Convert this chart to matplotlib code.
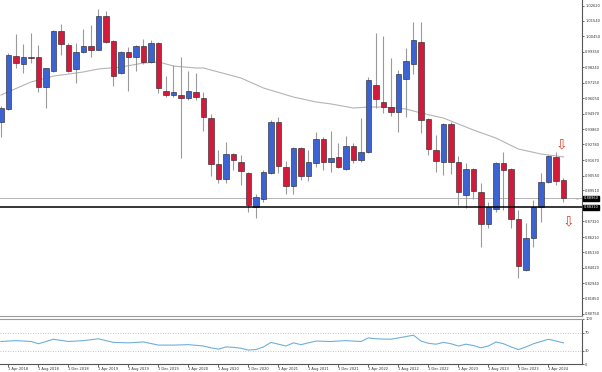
import matplotlib
matplotlib.use("Agg")
import matplotlib.pyplot as plt
import matplotlib.transforms as mtransforms

# monthly candles, Mar 2018 .. Jun 2024
opens = [0.9437, 0.9529, 0.9905, 0.9848, 0.9898, 0.9898, 0.9685, 0.9799, 1.0082, 0.9983,
         0.9813, 0.9934, 0.9976, 0.9948, 1.0189, 1.0012, 0.9785, 0.9934, 0.9898, 0.9976,
         0.9863, 0.9997, 0.9657, 0.9628, 0.9628, 0.9607, 0.9650, 0.9607, 0.9465, 0.9139,
         0.9033, 0.9210, 0.9153, 0.9075, 0.8834, 0.8891, 0.9075, 0.9437, 0.9118, 0.8983,
         0.9253, 0.9054, 0.9146, 0.9316, 0.9153, 0.9189, 0.9104, 0.9267, 0.9167, 0.9224,
         0.9699, 0.9579, 0.9543, 0.9508, 0.9742, 0.9848, 1.0004, 0.9458, 0.9238, 0.9153,
         0.9423, 0.9153, 0.8919, 0.9104, 0.8940, 0.8713, 0.8820, 0.9146, 0.9104, 0.8749,
         0.8387, 0.8614, 0.8834, 0.9011, 0.9189, 0.9026]
highs = [0.9550, 0.9926, 1.0061, 0.9990, 1.0068, 0.9983, 0.9820, 1.0090, 1.0132, 0.9997,
         0.9997, 1.0097, 1.0125, 1.0239, 1.0224, 1.0019, 0.9941, 0.9969, 0.9985, 1.0026,
         1.0019, 1.0004, 0.9763, 0.9841, 0.9898, 0.9799, 0.9785, 0.9650, 0.9494, 0.9238,
         0.9295, 0.9217, 0.9203, 0.9082, 0.8926, 0.9096, 0.9451, 0.9472, 0.9160, 0.9260,
         0.9260, 0.9238, 0.9366, 0.9330, 0.9373, 0.9288, 0.9338, 0.9288, 0.9465, 0.9756,
         1.0068, 1.0047, 0.9891, 0.9806, 0.9962, 1.0146, 1.0146, 0.9465, 0.9345, 0.9430,
         0.9437, 0.9196, 0.9146, 0.9111, 0.9004, 0.8869, 0.9153, 0.9224, 0.9111, 0.8813,
         0.8720, 0.8884, 0.9075, 0.9203, 0.9224, 0.9040]
lows = [0.9330, 0.9522, 0.9820, 0.9785, 0.9855, 0.9650, 0.9536, 0.9795, 0.9912, 0.9792,
        0.9714, 0.9926, 0.9898, 0.9945, 1.0000, 0.9692, 0.9777, 0.9657, 0.9799, 0.9848,
        0.9855, 0.9643, 0.9614, 0.9614, 0.9182, 0.9593, 0.9593, 0.9373, 0.9054, 0.9004,
        0.9004, 0.9096, 0.8990, 0.8798, 0.8756, 0.8869, 0.9068, 0.9075, 0.8926, 0.8926,
        0.9026, 0.9018, 0.9118, 0.9096, 0.9082, 0.9111, 0.9096, 0.9146, 0.9153, 0.9217,
        0.9536, 0.9501, 0.9480, 0.9366, 0.9472, 0.9777, 0.9359, 0.9203, 0.9082, 0.9061,
        0.9068, 0.8848, 0.8827, 0.8891, 0.8550, 0.8685, 0.8798, 0.8813, 0.8685, 0.8330,
        0.8380, 0.8550, 0.8728, 0.9004, 0.8990, 0.8869]
closes = [0.9536, 0.9912, 0.9855, 0.9898, 0.9894, 0.9685, 0.9820, 1.0082, 0.9990, 0.9799,
          0.9934, 0.9976, 0.9948, 1.0189, 1.0004, 0.9763, 0.9934, 0.9898, 0.9976, 0.9863,
          0.9997, 0.9678, 0.9628, 0.9650, 0.9607, 0.9657, 0.9614, 0.9472, 0.9139, 0.9033,
          0.9210, 0.9167, 0.9089, 0.8848, 0.8905, 0.9082, 0.9437, 0.9125, 0.8983, 0.9253,
          0.9054, 0.9153, 0.9316, 0.9153, 0.9182, 0.9118, 0.9267, 0.9167, 0.9224, 0.9735,
          0.9600, 0.9543, 0.9508, 0.9777, 0.9870, 1.0019, 0.9451, 0.9245, 0.9160, 0.9423,
          0.9153, 0.8940, 0.9104, 0.8947, 0.8713, 0.8834, 0.9146, 0.9096, 0.8749, 0.8415,
          0.8614, 0.8834, 0.9011, 0.9196, 0.9018, 0.8896]

# moving average, read at some candles
ma_idx = [0, 4, 7, 9, 11, 13, 16, 19, 21, 23, 26, 27, 32, 35, 39, 42, 44, 47, 49, 51,
          54, 56, 59, 63, 66, 69, 72, 74, 75]
ma_val = [0.9628, 0.9721, 0.9763, 0.9777, 0.9792, 0.9813, 0.9827, 0.9855, 0.9863, 0.9834,
          0.9820, 0.9820, 0.9749, 0.9678, 0.9614, 0.9579, 0.9565, 0.9536, 0.9543, 0.9543,
          0.9529, 0.9501, 0.9465, 0.9380, 0.9323, 0.9245, 0.9210, 0.9196, 0.9189]

# RSI window
rsi_idx = [0, 2, 4, 5, 7, 9, 11, 13, 15, 17, 19, 21, 23, 25, 27, 28, 29, 30, 31, 32, 33, 34,
           35, 36, 37, 38, 39, 40, 42, 44, 46, 48, 49, 50, 52, 55, 56, 57, 58, 59, 60, 61,
           62, 63, 64, 65, 66, 67, 68, 69, 70, 71, 72, 73, 74, 75]
rsi_val = [50, 52, 50, 45, 55, 50, 52, 56, 48, 47, 49, 42, 42, 43, 40, 36, 33, 38, 37, 35,
           31, 32, 38, 48, 44, 40, 47, 43, 51, 50, 52, 50, 58, 56, 55, 64, 51, 46, 44, 48,
           45, 40, 44, 41, 36, 40, 49, 45, 38, 32, 38, 45, 50, 55, 51, 47]

price_ticks = [1.02620, 1.01540, 1.00450, 0.99350, 0.98240, 0.97150, 0.96050, 0.94970,
               0.93860, 0.92780, 0.91670, 0.90550, 0.89510, 0.87320, 0.86210, 0.85130,
               0.84020, 0.82940, 0.81850, 0.80750]
date_idx = [1, 5, 9, 13, 17, 21, 25, 29, 33, 37, 41, 45, 49, 53, 57, 61, 65, 69, 73]
date_labels = ["1 Apr 2018", "1 Aug 2018", "1 Dec 2018", "1 Apr 2019", "1 Aug 2019",
               "1 Dec 2019", "1 Apr 2020", "1 Aug 2020", "1 Dec 2020", "1 Apr 2021",
               "1 Aug 2021", "1 Dec 2021", "1 Apr 2022", "1 Aug 2022", "1 Dec 2022",
               "1 Apr 2023", "1 Aug 2023", "1 Dec 2023", "1 Apr 2024"]

bid_price = 0.8896
level_price = 0.8831
arrow_idx = [74.7, 75.7]
arrow_price = [0.9281, 0.8728]

BLUE = "#3d63d2"
RED = "#d21a3c"
FS = 2.6
plt.rcParams['font.family'] = ['DejaVu Sans']

fig = plt.figure(figsize=(6.02, 3.72), dpi=100)
W, H = 602.0, 372.0
ax = fig.add_axes([0, (H - 316) / H, 582 / W, 316 / H])
ax2 = fig.add_axes([0, (H - 364) / H, 582 / W, 45 / H])

xs = list(range(len(opens)))
# wicks then bodies
ax.vlines(xs, lows, highs, color="#9a9a9a", lw=0.8, zorder=2)
bottoms = [min(o, c) for o, c in zip(opens, closes)]
heights = [max(abs(c - o), 0.0004) for o, c in zip(opens, closes)]
colors = [BLUE if c >= o else RED for o, c in zip(opens, closes)]
ax.bar(xs, heights, bottom=bottoms, width=0.68, color=colors,
       edgecolor="#202020", linewidth=0.4, zorder=3)

ax.plot(ma_idx, ma_val, color="#b4b4b4", lw=0.8, zorder=1)

ax.axhline(bid_price, color="#a8a8a8", lw=0.6, zorder=1)
ax.axhline(level_price, color="#000000", lw=1.1, zorder=4)

for xa, ya in zip(arrow_idx, arrow_price):
    ax.text(xa, ya, "\u21e9", color="#e0402a", fontsize=10, ha="center", va="center",
            family="DejaVu Sans", zorder=5)

ax.set_xlim(-0.13, 77.47)
ax.set_ylim(0.80607, 1.03024)
ax.yaxis.tick_right()
ax.set_yticks(price_ticks)
ax.set_yticklabels(["%.5f" % v for v in price_ticks], fontsize=FS, color="#333333")
ax.tick_params(axis="y", length=1.5, width=0.5, pad=0.8, colors="#333333")
ax.set_xticks([])
for s in ["top", "left"]:
    ax.spines[s].set_visible(False)
ax.spines["right"].set_color("#555555")
ax.spines["right"].set_linewidth(0.8)
ax.spines["bottom"].set_color("#9a9a9a")
ax.spines["bottom"].set_linewidth(0.8)

# boxed price labels on the scale
trans = mtransforms.blended_transform_factory(ax.transAxes, ax.transData)
for v in [bid_price, level_price]:
    ax.text(1.003, v, "%.5f" % v, transform=trans, fontsize=FS, color="white",
            ha="left", va="center", clip_on=False,
            bbox=dict(boxstyle="square,pad=0.12", fc="black", ec="black"))
ax.text(0.992, bid_price, "<-", transform=trans, fontsize=3, color="#999999",
        ha="center", va="center")

# RSI panel
ax2.plot(rsi_idx, rsi_val, color="#6fb0d8", lw=0.8)
ax2.axhline(70, color="#b0b0b0", lw=0.6, ls=(0, (1, 2)))
ax2.axhline(30, color="#b0b0b0", lw=0.6, ls=(0, (1, 2)))
ax2.set_xlim(-0.13, 77.47)
ax2.set_ylim(0, 100)
ax2.yaxis.tick_right()
ax2.set_yticks([100, 70, 30, 0])
ax2.set_yticklabels(["100", "70", "30", "0"], fontsize=FS, color="#333333")
ax2.tick_params(axis="y", length=1.5, width=0.5, pad=0.8, colors="#333333")
ax2.set_xticks(date_idx)
ax2.set_xticklabels(date_labels, fontsize=FS, color="#333333", ha="left")
ax2.tick_params(axis="x", length=2, width=0.5, pad=0.5, colors="#333333")
ax2.spines["left"].set_visible(False)
for s in ["top", "right", "bottom"]:
    ax2.spines[s].set_color("#555555")
    ax2.spines[s].set_linewidth(0.8)
ax2.spines["top"].set_color("#9a9a9a")

fig.savefig("out.png", dpi=100, facecolor="white")
